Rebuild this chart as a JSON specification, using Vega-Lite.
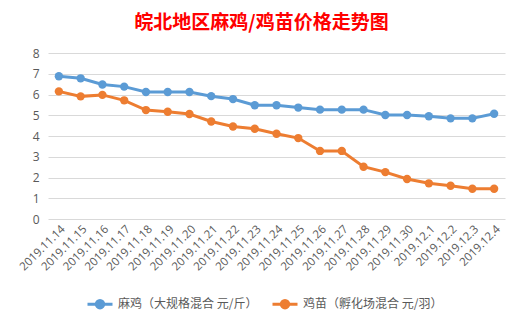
{
  "$schema": "https://vega.github.io/schema/vega-lite/v6.json",
  "width": 457,
  "height": 166,
  "autosize": {"type": "none"},
  "padding": {"left": 48, "top": 53, "right": 20, "bottom": 102},
  "background": "white",
  "config": {
    "view": {"stroke": null},
    "font": "Noto Sans CJK SC"
  },
  "title": {
    "text": "皖北地区麻鸡/鸡苗价格走势图",
    "color": "#FF0000",
    "fontSize": 19,
    "fontWeight": "bold",
    "font": "Noto Sans CJK SC",
    "anchor": "middle",
    "dx": -15,
    "offset": 14
  },
  "data": {
    "values": [
      {"date": "2019.11.14", "series": "麻鸡（大规格混合 元/斤）", "price": 6.88},
      {"date": "2019.11.15", "series": "麻鸡（大规格混合 元/斤）", "price": 6.78},
      {"date": "2019.11.16", "series": "麻鸡（大规格混合 元/斤）", "price": 6.48},
      {"date": "2019.11.17", "series": "麻鸡（大规格混合 元/斤）", "price": 6.38},
      {"date": "2019.11.18", "series": "麻鸡（大规格混合 元/斤）", "price": 6.12},
      {"date": "2019.11.19", "series": "麻鸡（大规格混合 元/斤）", "price": 6.12},
      {"date": "2019.11.20", "series": "麻鸡（大规格混合 元/斤）", "price": 6.12},
      {"date": "2019.11.21", "series": "麻鸡（大规格混合 元/斤）", "price": 5.92},
      {"date": "2019.11.22", "series": "麻鸡（大规格混合 元/斤）", "price": 5.78},
      {"date": "2019.11.23", "series": "麻鸡（大规格混合 元/斤）", "price": 5.48},
      {"date": "2019.11.24", "series": "麻鸡（大规格混合 元/斤）", "price": 5.48},
      {"date": "2019.11.25", "series": "麻鸡（大规格混合 元/斤）", "price": 5.37},
      {"date": "2019.11.26", "series": "麻鸡（大规格混合 元/斤）", "price": 5.27},
      {"date": "2019.11.27", "series": "麻鸡（大规格混合 元/斤）", "price": 5.27},
      {"date": "2019.11.28", "series": "麻鸡（大规格混合 元/斤）", "price": 5.27},
      {"date": "2019.11.29", "series": "麻鸡（大规格混合 元/斤）", "price": 5.01},
      {"date": "2019.11.30", "series": "麻鸡（大规格混合 元/斤）", "price": 5.01},
      {"date": "2019.12.1", "series": "麻鸡（大规格混合 元/斤）", "price": 4.95},
      {"date": "2019.12.2", "series": "麻鸡（大规格混合 元/斤）", "price": 4.85},
      {"date": "2019.12.3", "series": "麻鸡（大规格混合 元/斤）", "price": 4.85},
      {"date": "2019.12.4", "series": "麻鸡（大规格混合 元/斤）", "price": 5.07},
      {"date": "2019.11.14", "series": "鸡苗（孵化场混合 元/羽）", "price": 6.15},
      {"date": "2019.11.15", "series": "鸡苗（孵化场混合 元/羽）", "price": 5.91},
      {"date": "2019.11.16", "series": "鸡苗（孵化场混合 元/羽）", "price": 5.98},
      {"date": "2019.11.17", "series": "鸡苗（孵化场混合 元/羽）", "price": 5.72},
      {"date": "2019.11.18", "series": "鸡苗（孵化场混合 元/羽）", "price": 5.25},
      {"date": "2019.11.19", "series": "鸡苗（孵化场混合 元/羽）", "price": 5.17},
      {"date": "2019.11.20", "series": "鸡苗（孵化场混合 元/羽）", "price": 5.06},
      {"date": "2019.11.21", "series": "鸡苗（孵化场混合 元/羽）", "price": 4.70},
      {"date": "2019.11.22", "series": "鸡苗（孵化场混合 元/羽）", "price": 4.46},
      {"date": "2019.11.23", "series": "鸡苗（孵化场混合 元/羽）", "price": 4.35},
      {"date": "2019.11.24", "series": "鸡苗（孵化场混合 元/羽）", "price": 4.11},
      {"date": "2019.11.25", "series": "鸡苗（孵化场混合 元/羽）", "price": 3.90},
      {"date": "2019.11.26", "series": "鸡苗（孵化场混合 元/羽）", "price": 3.28},
      {"date": "2019.11.27", "series": "鸡苗（孵化场混合 元/羽）", "price": 3.28},
      {"date": "2019.11.28", "series": "鸡苗（孵化场混合 元/羽）", "price": 2.52},
      {"date": "2019.11.29", "series": "鸡苗（孵化场混合 元/羽）", "price": 2.26},
      {"date": "2019.11.30", "series": "鸡苗（孵化场混合 元/羽）", "price": 1.93},
      {"date": "2019.12.1", "series": "鸡苗（孵化场混合 元/羽）", "price": 1.72},
      {"date": "2019.12.2", "series": "鸡苗（孵化场混合 元/羽）", "price": 1.60},
      {"date": "2019.12.3", "series": "鸡苗（孵化场混合 元/羽）", "price": 1.46},
      {"date": "2019.12.4", "series": "鸡苗（孵化场混合 元/羽）", "price": 1.46}
    ]
  },
  "encoding": {
    "x": {
      "field": "date",
      "type": "ordinal",
      "sort": null,
      "scale": {"type": "point", "padding": 0.5},
      "axis": {
        "title": null,
        "labelAngle": -45,
        "labelColor": "#595959",
        "labelFontSize": 11.5,
        "labelFont": "Open Sans",
        "ticks": false,
        "domain": false,
        "grid": false,
        "labelPadding": 4
      }
    },
    "y": {
      "field": "price",
      "type": "quantitative",
      "scale": {"domain": [0, 8], "nice": false},
      "axis": {
        "title": null,
        "values": [0, 1, 2, 3, 4, 5, 6, 7, 8],
        "labelColor": "#595959",
        "labelFontSize": 12,
        "labelFont": "Open Sans",
        "ticks": false,
        "domain": false,
        "gridColor": "#D9D9D9",
        "gridWidth": 1,
        "labelPadding": 9
      }
    },
    "color": {
      "field": "series",
      "type": "nominal",
      "sort": null,
      "scale": {"range": ["#5B9BD5", "#ED7D31"]},
      "legend": {
        "title": null,
        "orient": "none",
        "direction": "horizontal",
        "legendX": 38,
        "legendY": 237,
        "labelFontSize": 12,
        "labelColor": "#595959",
        "symbolType": "M-1,0L1,0M-0.3,0A0.3,0.3 0 1,1 0.3,0A0.3,0.3 0 1,1 -0.3,0Z",
        "symbolSize": 625,
        "symbolStrokeWidth": 3,
        "columnPadding": 8,
        "labelOffset": 4,
        "encode": {
          "symbols": {
            "update": {"fill": {"scale": "color", "field": "value"}}
          }
        }
      }
    }
  },
  "layer": [
    {"mark": {"type": "line", "strokeWidth": 3, "strokeCap": "round"}},
    {"mark": {"type": "circle", "size": 70, "opacity": 1}}
  ]
}
